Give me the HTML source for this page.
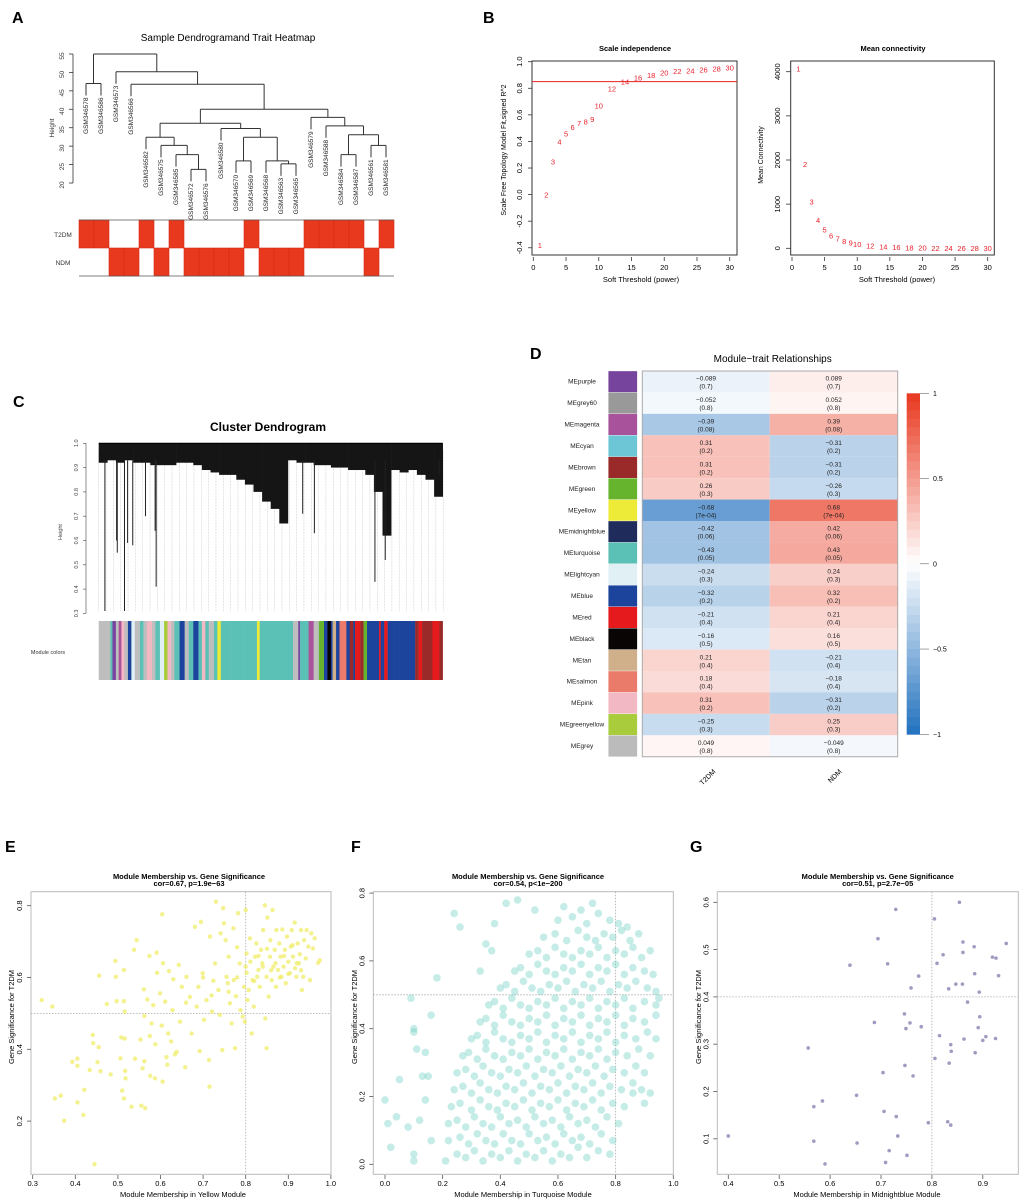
<!DOCTYPE html>
<html><head><meta charset="utf-8"><style>
html,body{margin:0;padding:0;background:#fff;}
svg{display:block;}
</style></head><body>
<svg id="fig" width="1021" height="1201" viewBox="0 0 1021 1201" xmlns="http://www.w3.org/2000/svg">
<rect x="0" y="0" width="1021" height="1201" fill="#fff"/>
</svg>
<script>
// ---------- Panel A data ----------
const aLabels=["GSM346578","GSM346586","GSM346573","GSM346566","GSM346582","GSM346575","GSM346585","GSM346572","GSM346576","GSM346580","GSM346570","GSM346569","GSM346568","GSM346563","GSM346565","GSM346579","GSM346588","GSM346584","GSM346587","GSM346561","GSM346581"];
const aT2DM=[1,1,0,0,1,0,1,0,0,0,0,1,0,0,0,1,1,1,1,0,1];
const aNDM=[0,0,1,1,0,1,0,1,1,1,1,0,1,1,1,0,0,0,0,1,0];
const aMerge=[[-8,-9],[-14,-15],[-11,-12],[-13,2],[-7,1],[-18,-19],[-6,5],[-20,-21],[-5,7],[3,4],[6,8],[-10,10],[-17,11],[9,12],[-16,13],[14,15],[-4,16],[-1,-2],[-3,17],[18,19]];
const aHeight=[23.7,25.2,26,26,27.7,27.7,30.2,30.2,32.4,32.4,33.1,34.8,35.5,36.2,37.8,40,46.8,47,50.2,55];
const aYTicks=[20,25,30,35,40,45,50,55];
// ---------- Panel B data ----------
const bPowers=[1,2,3,4,5,6,7,8,9,10,12,14,16,18,20,22,24,26,28,30];
const bFit=[-0.38,0.0,0.25,0.40,0.46,0.51,0.54,0.55,0.57,0.67,0.80,0.85,0.88,0.90,0.92,0.93,0.935,0.94,0.95,0.955];
const bConn=[4077,1910,1065,641,422,294,218,165,127,97,59,37,29,20,15,12,10,8,7,6];
const bXTicks=[0,5,10,15,20,25,30];
const bFitTicks=[-0.4,-0.2,0.0,0.2,0.4,0.6,0.8,1.0];
const bConnTicks=[0,1000,2000,3000,4000];
const bCutoff=0.85;
// ---------- Panel C data ----------
const cProfile=[0.92,0.93,0.92,0.93,0.92,0.92,0.91,0.91,0.91,0.92,0.92,0.91,0.89,0.88,0.87,0.87,0.85,0.83,0.80,0.76,0.73,0.67,0.93,0.92,0.92,0.91,0.91,0.90,0.90,0.89,0.89,0.87,0.80,0.62,0.89,0.88,0.89,0.87,0.85,0.78];
const cDrops=[[0.018,0.31],[0.075,0.31],[0.052,0.60],[0.054,0.55],[0.084,0.59],[0.099,0.58],[0.136,0.70],[0.167,0.41],[0.164,0.64],[0.803,0.43],[0.627,0.63],[0.593,0.71],[0.833,0.52],[0.99,0.87]];
const cYTicks=[0.3,0.4,0.5,0.6,0.7,0.8,0.9,1.0];
const cColorStart=[0,0.034,0.04,0.05,0.058,0.066,0.075,0.085,0.095,0.105,0.12,0.13,0.14,0.155,0.165,0.178,0.19,0.2,0.21,0.22,0.235,0.25,0.262,0.275,0.29,0.3,0.31,0.32,0.335,0.345,0.355,0.37,0.385,0.4,0.42,0.45,0.46,0.468,0.47,0.48,0.56,0.565,0.58,0.585,0.61,0.625,0.64,0.655,0.665,0.675,0.68,0.69,0.7,0.72,0.73,0.74,0.745,0.76,0.77,0.78,0.79,0.8,0.815,0.82,0.83,0.84,0.86,0.9,0.92,0.93,0.94,0.95,0.97,0.99];
const cColorFill=["#bebebe","#5bc0b6","#7a44a0","#bebebe","#a9529c","#f2b8c4","#bebebe","#1c449c","#e0f0f4","#bebebe","#5bc0b6","#bebebe","#f2b8c4","#bebebe","#5bc0b6","#e0f0f4","#a9cc3c","#f2b8c4","#bebebe","#5bc0b6","#1c449c","#bebebe","#5bc0b6","#1c449c","#5bc0b6","#f2b8c4","#5bc0b6","#bebebe","#5bc0b6","#eeea38","#5bc0b6","#5bc0b6","#5bc0b6","#5bc0b6","#5bc0b6","#5bc0b6","#eeea38","#5bc0b6","#5bc0b6","#5bc0b6","#5bc0b6","#bebebe","#7a44a0","#5bc0b6","#a9529c","#bebebe","#66b32e","#1c449c","#0a0505","#1c449c","#cfb08a","#1c449c","#ea7b6b","#1c449c","#9a2a2a","#1c449c","#e41a1c","#9a2a2a","#66b32e","#1c449c","#1c449c","#1c449c","#e41a1c","#1c449c","#e41a1c","#1c449c","#1c449c","#1c449c","#9a2a2a","#e41a1c","#9a2a2a","#9a2a2a","#e41a1c","#9a2a2a"];
// ---------- Panel D data ----------
const dModules=["MEpurple","MEgrey60","MEmagenta","MEcyan","MEbrown","MEgreen","MEyellow","MEmidnightblue","MEturquoise","MElightcyan","MEblue","MEred","MEblack","MEtan","MEsalmon","MEpink","MEgreenyellow","MEgrey"];
const dSwatch=["#76449c","#999999","#a9529c","#6cc6d6","#9a2a2a","#66b32e","#eeea38","#1f2b5a","#5bc0b6","#e0f0f4","#1c449c","#e41a1c","#0a0505","#cfb08a","#ea7b6b","#f2b8c4","#a9cc3c","#bbbbbb"];
const dT2DM=[-0.089,-0.052,-0.39,0.31,0.31,0.26,-0.68,-0.42,-0.43,-0.24,-0.32,-0.21,-0.16,0.21,0.18,0.31,-0.25,0.049];
const dNDM=[0.089,0.052,0.39,-0.31,-0.31,-0.26,0.68,0.42,0.43,0.24,0.32,0.21,0.16,-0.21,-0.18,-0.31,0.25,-0.049];
const dP=["0.7","0.8","0.08","0.2","0.2","0.3","7e-04","0.06","0.05","0.3","0.2","0.4","0.5","0.4","0.4","0.2","0.3","0.8"];
const dTraits=["T2DM","NDM"];
const dScaleTicks=[1,0.5,0,-0.5,-1];
// ---------- Panel E data (membership, significance) ----------
const ePoints=[[0.321,0.537],[0.346,0.519],[0.352,0.263],[0.366,0.271],[0.374,0.201],[0.393,0.365],[0.405,0.374],[0.405,0.354],[0.405,0.252],[0.419,0.217],[0.421,0.287],[0.434,0.342],[0.441,0.440],[0.442,0.417],[0.445,0.080],[0.452,0.364],[0.455,0.406],[0.456,0.605],[0.459,0.339],[0.483,0.330],[0.474,0.526],[0.494,0.646],[0.495,0.602],[0.497,0.534],[0.506,0.375],[0.508,0.433],[0.510,0.285],[0.514,0.621],[0.514,0.534],[0.516,0.505],[0.516,0.430],[0.517,0.340],[0.518,0.319],[0.514,0.263],[0.532,0.240],[0.538,0.677],[0.544,0.704],[0.540,0.374],[0.553,0.427],[0.555,0.243],[0.558,0.347],[0.561,0.567],[0.562,0.493],[0.562,0.367],[0.564,0.236],[0.569,0.539],[0.574,0.660],[0.575,0.437],[0.576,0.326],[0.579,0.472],[0.583,0.523],[0.588,0.414],[0.591,0.669],[0.592,0.613],[0.587,0.319],[0.599,0.556],[0.603,0.466],[0.604,0.776],[0.605,0.310],[0.606,0.640],[0.611,0.533],[0.614,0.378],[0.616,0.357],[0.618,0.444],[0.620,0.618],[0.625,0.422],[0.628,0.509],[0.630,0.595],[0.634,0.386],[0.638,0.393],[0.643,0.635],[0.646,0.477],[0.650,0.574],[0.658,0.350],[0.661,0.602],[0.669,0.546],[0.673,0.444],[0.681,0.741],[0.685,0.519],[0.689,0.574],[0.692,0.395],[0.695,0.755],[0.699,0.612],[0.702,0.482],[0.708,0.537],[0.714,0.370],[0.715,0.296],[0.716,0.714],[0.721,0.505],[0.724,0.591],[0.728,0.639],[0.730,0.811],[0.736,0.565],[0.739,0.496],[0.741,0.723],[0.745,0.398],[0.747,0.793],[0.749,0.751],[0.753,0.704],[0.755,0.602],[0.758,0.584],[0.760,0.658],[0.763,0.528],[0.767,0.472],[0.771,0.737],[0.772,0.593],[0.775,0.403],[0.777,0.548],[0.780,0.684],[0.782,0.779],[0.786,0.639],[0.788,0.509],[0.793,0.491],[0.796,0.574],[0.798,0.477],[0.800,0.788],[0.802,0.667],[0.802,0.613],[0.804,0.537],[0.807,0.565],[0.810,0.709],[0.811,0.644],[0.814,0.444],[0.816,0.593],[0.819,0.519],[0.822,0.658],[0.825,0.695],[0.827,0.602],[0.830,0.621],[0.833,0.574],[0.836,0.677],[0.839,0.640],[0.841,0.732],[0.845,0.801],[0.846,0.486],[0.849,0.403],[0.849,0.602],[0.851,0.767],[0.854,0.547],[0.857,0.658],[0.858,0.704],[0.861,0.593],[0.863,0.788],[0.865,0.630],[0.868,0.677],[0.871,0.574],[0.872,0.732],[0.876,0.621],[0.879,0.695],[0.882,0.658],[0.884,0.602],[0.886,0.734],[0.889,0.630],[0.892,0.677],[0.894,0.584],[0.897,0.714],[0.900,0.644],[0.904,0.612],[0.906,0.686],[0.908,0.732],[0.911,0.658],[0.915,0.753],[0.916,0.626],[0.919,0.602],[0.922,0.695],[0.925,0.640],[0.927,0.665],[0.930,0.732],[0.932,0.565],[0.935,0.602],[0.937,0.704],[0.941,0.653],[0.943,0.732],[0.947,0.686],[0.951,0.593],[0.954,0.723],[0.958,0.681],[0.962,0.709],[0.970,0.641],[0.974,0.648],[0.83,0.66],[0.86,0.62],[0.89,0.66],[0.92,0.64],[0.88,0.60],[0.85,0.68],[0.91,0.69],[0.87,0.64],[0.84,0.63],[0.93,0.62],[0.80,0.63],[0.78,0.60],[0.76,0.56],[0.72,0.55],[0.70,0.60],[0.66,0.53],[0.82,0.59],[0.90,0.61]];
const eXTicks=[0.3,0.4,0.5,0.6,0.7,0.8,0.9,1.0];
const eYTicks=[0.2,0.4,0.6,0.8];
// ---------- Panel F data ----------
const fPoints=[[0.21,0.01],[0.25,0.03],[0.28,0.02],[0.31,0.04],[0.34,0.01],[0.37,0.03],[0.40,0.02],[0.43,0.04],[0.46,0.01],[0.49,0.03],[0.52,0.02],[0.55,0.04],[0.58,0.01],[0.61,0.03],[0.64,0.02],[0.67,0.05],[0.70,0.02],[0.74,0.04],[0.78,0.03],
[0.22,0.07],[0.26,0.08],[0.29,0.06],[0.32,0.09],[0.35,0.07],[0.38,0.06],[0.41,0.09],[0.44,0.07],[0.47,0.06],[0.50,0.09],[0.53,0.07],[0.56,0.08],[0.59,0.06],[0.62,0.09],[0.65,0.07],[0.68,0.08],[0.71,0.06],[0.75,0.09],[0.79,0.07],
[0.22,0.12],[0.25,0.13],[0.28,0.11],[0.31,0.14],[0.34,0.12],[0.37,0.11],[0.40,0.14],[0.43,0.12],[0.46,0.13],[0.49,0.11],[0.52,0.14],[0.55,0.12],[0.58,0.13],[0.61,0.11],[0.64,0.14],[0.67,0.12],[0.70,0.13],[0.73,0.11],[0.77,0.14],[0.81,0.12],
[0.23,0.17],[0.26,0.18],[0.30,0.16],[0.33,0.19],[0.36,0.17],[0.39,0.16],[0.42,0.18],[0.45,0.17],[0.48,0.19],[0.51,0.16],[0.54,0.18],[0.57,0.17],[0.60,0.19],[0.63,0.16],[0.66,0.18],[0.69,0.17],[0.72,0.19],[0.75,0.16],[0.79,0.18],[0.83,0.17],[0.86,0.21],
[0.24,0.22],[0.27,0.23],[0.30,0.21],[0.33,0.24],[0.36,0.22],[0.39,0.21],[0.42,0.23],[0.45,0.22],[0.48,0.24],[0.51,0.21],[0.54,0.23],[0.57,0.22],[0.60,0.24],[0.63,0.21],[0.66,0.23],[0.69,0.22],[0.72,0.24],[0.75,0.21],[0.78,0.23],[0.82,0.22],[0.86,0.24],[0.89,0.22],
[0.25,0.27],[0.28,0.28],[0.31,0.26],[0.34,0.29],[0.37,0.27],[0.40,0.26],[0.43,0.28],[0.46,0.27],[0.49,0.29],[0.52,0.26],[0.55,0.28],[0.58,0.27],[0.61,0.29],[0.64,0.26],[0.67,0.28],[0.70,0.27],[0.73,0.29],[0.76,0.26],[0.79,0.28],[0.83,0.27],[0.87,0.29],[0.90,0.27],
[0.27,0.32],[0.29,0.33],[0.32,0.31],[0.35,0.34],[0.38,0.32],[0.41,0.31],[0.44,0.33],[0.47,0.32],[0.50,0.34],[0.53,0.31],[0.56,0.33],[0.59,0.32],[0.62,0.34],[0.65,0.31],[0.68,0.33],[0.71,0.32],[0.74,0.34],[0.77,0.31],[0.80,0.33],[0.84,0.32],[0.88,0.34],[0.92,0.32],
[0.30,0.37],[0.32,0.38],[0.35,0.36],[0.38,0.39],[0.41,0.37],[0.44,0.36],[0.47,0.38],[0.50,0.37],[0.53,0.39],[0.56,0.36],[0.59,0.38],[0.62,0.37],[0.65,0.39],[0.68,0.36],[0.71,0.38],[0.74,0.37],[0.77,0.39],[0.80,0.36],[0.83,0.38],[0.87,0.37],[0.91,0.39],[0.94,0.37],
[0.33,0.42],[0.35,0.43],[0.38,0.41],[0.41,0.44],[0.44,0.42],[0.47,0.41],[0.50,0.43],[0.53,0.42],[0.56,0.44],[0.59,0.41],[0.62,0.43],[0.65,0.42],[0.68,0.44],[0.71,0.41],[0.74,0.43],[0.77,0.42],[0.80,0.44],[0.83,0.41],[0.86,0.43],[0.90,0.42],[0.94,0.44],
[0.36,0.47],[0.38,0.48],[0.41,0.46],[0.44,0.49],[0.47,0.47],[0.50,0.46],[0.53,0.48],[0.56,0.47],[0.59,0.49],[0.62,0.46],[0.65,0.48],[0.68,0.47],[0.71,0.49],[0.74,0.46],[0.77,0.48],[0.80,0.47],[0.83,0.49],[0.86,0.46],[0.90,0.48],[0.94,0.47],
[0.40,0.52],[0.42,0.53],[0.45,0.51],[0.48,0.54],[0.51,0.52],[0.54,0.51],[0.57,0.53],[0.60,0.52],[0.63,0.54],[0.66,0.51],[0.69,0.53],[0.72,0.52],[0.75,0.54],[0.78,0.51],[0.81,0.53],[0.84,0.52],[0.87,0.54],[0.91,0.52],[0.94,0.51],
[0.45,0.57],[0.47,0.58],[0.50,0.56],[0.53,0.59],[0.56,0.57],[0.59,0.56],[0.62,0.58],[0.65,0.57],[0.68,0.59],[0.71,0.56],[0.74,0.58],[0.77,0.57],[0.80,0.59],[0.83,0.56],[0.86,0.58],[0.90,0.57],[0.93,0.56],
[0.50,0.62],[0.53,0.63],[0.56,0.61],[0.59,0.64],[0.62,0.62],[0.65,0.61],[0.68,0.63],[0.71,0.62],[0.74,0.64],[0.77,0.61],[0.80,0.63],[0.83,0.62],[0.86,0.64],[0.89,0.61],[0.92,0.63],
[0.55,0.67],[0.59,0.68],[0.63,0.66],[0.67,0.69],[0.70,0.67],[0.73,0.66],[0.76,0.68],[0.79,0.67],[0.82,0.69],[0.85,0.66],[0.88,0.68],
[0.60,0.72],[0.65,0.73],[0.70,0.71],[0.74,0.74],[0.78,0.72],[0.81,0.71],[0.84,0.70],
[0.52,0.75],[0.62,0.76],[0.68,0.75],[0.72,0.77],[0.46,0.78],[0.42,0.77],
[0.00,0.19],[0.01,0.12],[0.02,0.05],[0.04,0.14],[0.05,0.25],[0.08,0.11],[0.10,0.01],[0.10,0.03],[0.10,0.39],[0.10,0.40],[0.11,0.34],[0.12,0.13],[0.13,0.26],[0.14,0.33],[0.14,0.19],[0.15,0.26],[0.16,0.07],[0.16,0.44],[0.18,0.55],[0.09,0.49],[0.24,0.74],[0.26,0.70],[0.33,0.57],[0.35,0.65],[0.38,0.71],[0.37,0.63],[0.95,0.49],[0.92,0.21],[0.90,0.18]];
const fXTicks=[0.0,0.2,0.4,0.6,0.8,1.0];
const fYTicks=[0.0,0.2,0.4,0.6,0.8];
// ---------- Panel G data ----------
const gPoints=[[0.854,0.600],[0.729,0.585],[0.805,0.565],[0.694,0.523],[0.861,0.516],[0.883,0.506],[0.946,0.513],[0.822,0.489],[0.861,0.494],[0.919,0.484],[0.926,0.482],[0.639,0.467],[0.713,0.470],[0.810,0.471],[0.774,0.444],[0.884,0.449],[0.931,0.445],[0.759,0.419],[0.847,0.427],[0.860,0.427],[0.833,0.417],[0.893,0.410],[0.870,0.389],[0.746,0.364],[0.687,0.346],[0.757,0.345],[0.749,0.333],[0.779,0.337],[0.894,0.358],[0.891,0.335],[0.815,0.318],[0.863,0.311],[0.906,0.316],[0.900,0.308],[0.925,0.312],[0.557,0.292],[0.837,0.299],[0.838,0.285],[0.885,0.282],[0.806,0.270],[0.834,0.260],[0.747,0.255],[0.704,0.240],[0.763,0.233],[0.652,0.192],[0.585,0.180],[0.568,0.168],[0.706,0.158],[0.730,0.147],[0.793,0.134],[0.831,0.136],[0.837,0.129],[0.400,0.106],[0.733,0.106],[0.568,0.095],[0.653,0.091],[0.716,0.075],[0.751,0.065],[0.590,0.047],[0.709,0.050]];
const gXTicks=[0.4,0.5,0.6,0.7,0.8,0.9];
const gYTicks=[0.1,0.2,0.3,0.4,0.5,0.6];

// ---------- helpers ----------
const NS="http://www.w3.org/2000/svg";
const svg=document.getElementById('fig');
const FONT="'Liberation Sans', Arial, sans-serif";
function mk(tag,attrs,name){
  const el=document.createElementNS(NS,tag);
  for(const k in attrs) el.setAttribute(k,attrs[k]);
  
  
  svg.appendChild(el);
  return el;
}
function tx(x,y,s,size,name,extra){
  const e=mk('text',Object.assign({x:x,y:y,'font-size':size,'font-family':FONT,fill:'#000'},extra||{}),name);
  e.textContent=s;
  return e;
}
function ln(x1,y1,x2,y2,name,extra){
  return mk('line',Object.assign({x1:x1,y1:y1,x2:x2,y2:y2,stroke:'#000','stroke-width':0.8},extra||{}),name);
}
function rtx(x,y,s,size,name,extra){
  return tx(x,y,s,size,name,Object.assign({'text-anchor':'middle',transform:'rotate(-90 '+x+' '+y+')'},extra||{}));
}

// ---------- panel letters ----------
tx(12,23,'A',16,'panel-label-a',{'font-weight':'bold'});
tx(483,23,'B',16,'panel-label-b',{'font-weight':'bold'});
tx(13,407,'C',16,'panel-label-c',{'font-weight':'bold'});
tx(530,359,'D',16,'panel-label-d',{'font-weight':'bold'});
tx(5,852,'E',16,'panel-label-e',{'font-weight':'bold'});
tx(351,852,'F',16,'panel-label-f',{'font-weight':'bold'});
tx(690,852,'G',16,'panel-label-g',{'font-weight':'bold'});

// ---------- Panel A ----------
(function(){
  const yA=h=>54+(55-h)*3.686;
  const xL=i=>86+15*i;
  tx(228,41,'Sample Dendrogramand Trait Heatmap',10,'sample-dendrogram-title',{'text-anchor':'middle'});
  ln(73,yA(20),73,yA(55),'a-y-axis',{stroke:'#333'});
  aYTicks.forEach(v=>{
    ln(69,yA(v),73,yA(v),'a-y-tick',{stroke:'#333'});
    rtx(64,yA(v)+2,String(v),6.5,'a-y-tick-label',{fill:'#333'});
  });
  rtx(54,128,'Height',6.5,'a-y-axis-title',{fill:'#333'});
  const nodeX=[],nodeY=[];
  aMerge.forEach((m,k)=>{
    const h=aHeight[k], y=yA(h), xs=[];
    m.forEach(c=>{
      let cx,cy;
      if(c<0){
        const i=-c-1; cx=xL(i); cy=y+12;
        tx(cx+2,cy+2,aLabels[i],6.5,'sample-label',{'text-anchor':'end',transform:'rotate(-90 '+(cx+2)+' '+(cy+2)+')',fill:'#222'});
      } else { cx=nodeX[c-1]; cy=nodeY[c-1]; }
      ln(cx,y,cx,cy,'dendrogram-branch',{stroke:'#333','stroke-width':1});
      xs.push(cx);
    });
    ln(xs[0],y,xs[1],y,'dendrogram-join',{stroke:'#333','stroke-width':1});
    nodeX.push((xs[0]+xs[1])/2); nodeY.push(y);
  });
  aT2DM.forEach((v,i)=>{ if(v) mk('rect',{x:79+15*i,y:220,width:15,height:28,fill:'#e8391e',stroke:'#d62a12','stroke-width':0.6},'t2dm-trait-cell'); });
  aNDM.forEach((v,i)=>{ if(v) mk('rect',{x:79+15*i,y:248,width:15,height:28,fill:'#e8391e',stroke:'#d62a12','stroke-width':0.6},'ndm-trait-cell'); });
  ln(79,220,394,220,'heatmap-top-border',{stroke:'#555'});
  ln(79,276,394,276,'heatmap-bottom-border',{stroke:'#555'});
  tx(63,237,'T2DM',6.5,'t2dm-row-label',{'text-anchor':'middle',fill:'#333'});
  tx(63,265,'NDM',6.5,'ndm-row-label',{'text-anchor':'middle',fill:'#333'});
})();

// ---------- Panel B ----------
(function(){
  const xS=p=>533.3+p*6.547, yS=v=>61.7+(1-v)*132.9;
  mk('rect',{x:532,y:61,width:205,height:194,fill:'none',stroke:'#333','stroke-width':1},'scale-independence-frame');
  bXTicks.forEach(p=>{ ln(xS(p),257,xS(p),261,'b1-x-tick',{stroke:'#333'}); tx(xS(p),270,String(p),7.5,'b1-x-tick-label',{'text-anchor':'middle'}); });
  bFitTicks.forEach(v=>{ ln(528,yS(v),532,yS(v),'b1-y-tick',{stroke:'#333'}); rtx(522,yS(v),v.toFixed(1),7.5,'b1-y-tick-label'); });
  ln(532,yS(bCutoff),737,yS(bCutoff),'r2-cutoff-line',{stroke:'#e82020','stroke-width':1});
  bPowers.forEach((p,i)=>{ tx(xS(p),yS(bFit[i])+3,String(p),7.5,'fit-power-label',{'text-anchor':'middle',fill:'#e8202a'}); });
  tx(635,51,'Scale independence',7.5,'scale-independence-title',{'text-anchor':'middle','font-weight':'bold'});
  tx(641,282,'Soft Threshold (power)',7.5,'b1-x-axis-title',{'text-anchor':'middle'});
  rtx(506,150,'Scale Free Topology Model Fit,signed R^2',7,'b1-y-axis-title');
  const xC=p=>792+p*6.523, yC=v=>248.3-v*0.04415;
  mk('rect',{x:790.7,y:61,width:203.6,height:194,fill:'none',stroke:'#333','stroke-width':1},'mean-connectivity-frame');
  bXTicks.forEach(p=>{ ln(xC(p),257,xC(p),261,'b2-x-tick',{stroke:'#333'}); tx(xC(p),270,String(p),7.5,'b2-x-tick-label',{'text-anchor':'middle'}); });
  bConnTicks.forEach(v=>{ ln(786,yC(v),790.7,yC(v),'b2-y-tick',{stroke:'#333'}); rtx(780,yC(v),String(v),7.5,'b2-y-tick-label'); });
  bPowers.forEach((p,i)=>{ tx(xC(p),yC(bConn[i])+3,String(p),7.5,'connectivity-power-label',{'text-anchor':'middle',fill:'#e8202a'}); });
  tx(893,51,'Mean connectivity',7.5,'mean-connectivity-title',{'text-anchor':'middle','font-weight':'bold'});
  tx(897,282,'Soft Threshold (power)',7.5,'b2-x-axis-title',{'text-anchor':'middle'});
  rtx(763,155,'Mean Connectivity',7,'b2-y-axis-title');
})();

// ---------- Panel C ----------
(function(){
  const x0=98.7,W=344;
  const xC=f=>x0+f*W, yC=h=>443.3+(1-h)*243;
  tx(268,431,'Cluster Dendrogram',12,'cluster-dendrogram-title',{'text-anchor':'middle','font-weight':'bold'});
  ln(86,yC(0.3),86,yC(1.0),'c-y-axis',{stroke:'#444','stroke-width':0.6});
  cYTicks.forEach(v=>{ ln(83,yC(v),86,yC(v),'c-y-tick',{stroke:'#444','stroke-width':0.6}); rtx(78,yC(v),v.toFixed(1),5.5,'c-y-tick-label',{fill:'#444'}); });
  rtx(62,532,'Height',5.5,'c-y-axis-title',{fill:'#444'});
  for(let k=0;k<=47;k++){ const x=x0+k*7.33; ln(x,yC(0.97),x,yC(0.31),'gene-leaf-line',{stroke:'#c8c8c8','stroke-width':0.5,'stroke-dasharray':'2,1'}); }
  const sw=W/cProfile.length;
  cProfile.forEach((h,i)=>{
    mk('rect',{x:xC(i/cProfile.length),y:yC(1.0),width:sw+0.3,height:yC(h)-yC(1.0),fill:'#151515'},'dendrogram-mass');
  });
  cDrops.forEach(d=>{ ln(xC(d[0]),yC(0.93),xC(d[0]),yC(d[1]),'dendrogram-drop',{stroke:'#222','stroke-width':1}); });
  ln(x0,yC(1.0),x0+W,yC(1.0),'dendrogram-top',{stroke:'#000','stroke-width':1.2});
  cColorStart.forEach((s,i)=>{
    const e=(i+1<cColorStart.length)?cColorStart[i+1]:1;
    mk('rect',{x:xC(s),y:621,width:(e-s)*W+0.2,height:59,fill:cColorFill[i]},'module-color-segment');
  });
  tx(48,654,'Module colors',5.5,'module-colors-label',{'text-anchor':'middle',fill:'#333'});
})();

// ---------- Panel D ----------
(function(){
  const y0=371,rh=21.43;
  function bwr(v){
    const t=Math.min(1,Math.abs(v));
    if(v<0) return 'rgb('+Math.round(255-222*t)+','+Math.round(255-142*t)+','+Math.round(255-65*t)+')';
    return 'rgb('+Math.round(255-23*t)+','+Math.round(255-200*t)+','+Math.round(255-225*t)+')';
  }
  tx(772.7,362,'Module\u2212trait Relationships',10,'module-trait-title',{'text-anchor':'middle'});
  const colX=[642.3,769.7], colW=[127.4,128];
  const vals=[dT2DM,dNDM];
  dModules.forEach((m,i)=>{
    const y=y0+i*rh;
    tx(582,y+rh/2+2,m,6.5,'module-label',{'text-anchor':'middle',fill:'#222'});
    mk('rect',{x:608.3,y:y,width:29,height:rh,fill:dSwatch[i],stroke:'#fff','stroke-width':0.3},'module-swatch');
    vals.forEach((arr,c)=>{
      mk('rect',{x:colX[c],y:y,width:colW[c],height:rh,fill:bwr(arr[i])},'correlation-cell');
      const cx=colX[c]+colW[c]/2;
      tx(cx,y+rh/2-1,String(arr[i]).replace('-','\u2212'),6.5,'correlation-value',{'text-anchor':'middle',fill:'#222'});
      tx(cx,y+rh/2+7,'('+dP[i]+')',6.5,'p-value',{'text-anchor':'middle',fill:'#222'});
    });
  });
  mk('rect',{x:642.3,y:y0,width:255.4,height:rh*18,fill:'none',stroke:'#aaa','stroke-width':1},'heatmap-frame');
  tx(716,772,dTraits[0],7,'t2dm-column-label',{'text-anchor':'end',transform:'rotate(-45 716 772)'});
  tx(842,772,dTraits[1],7,'ndm-column-label',{'text-anchor':'end',transform:'rotate(-45 842 772)'});
  const cbTop=393.3,cbBot=734.3,n=40;
  for(let k=0;k<n;k++){
    const v=1-(k+0.5)*2/n;
    mk('rect',{x:906.7,y:cbTop+k*(cbBot-cbTop)/n,width:13.3,height:(cbBot-cbTop)/n+0.4,fill:bwr(v)},'colorbar-segment');
  }
  dScaleTicks.forEach(v=>{
    const y=cbTop+(1-v)/2*(cbBot-cbTop);
    ln(920,y,929,y,'colorbar-tick',{stroke:'#666','stroke-width':0.6});
    tx(933,y+2.5,String(v).replace('-','\u2212'),7,'colorbar-tick-label');
  });
})();

// ---------- Scatter panels ----------
function scatterPanel(cfg){
  mk('rect',{x:cfg.bx0,y:891.7,width:cfg.bx1-cfg.bx0,height:282.6,fill:'none',stroke:'#bbb','stroke-width':1},cfg.key+'-frame');
  cfg.xt.forEach(v=>{ const x=cfg.xm(v); ln(x,1175,x,1179,cfg.key+'-x-tick',{stroke:'#555'}); tx(x,1186,v.toFixed(1),7.5,cfg.key+'-x-tick-label',{'text-anchor':'middle'}); });
  cfg.yt.forEach(v=>{ const y=cfg.ym(v); ln(cfg.bx0-4,y,cfg.bx0,y,cfg.key+'-y-tick',{stroke:'#555'}); rtx(cfg.bx0-9,y,v.toFixed(1),7.5,cfg.key+'-y-tick-label'); });
  ln(cfg.xm(cfg.vx),891.7,cfg.xm(cfg.vx),1174.3,cfg.key+'-membership-threshold',{stroke:'#aaa','stroke-dasharray':'1.5,1.5'});
  ln(cfg.bx0,cfg.ym(cfg.hy),cfg.bx1,cfg.ym(cfg.hy),cfg.key+'-significance-threshold',{stroke:'#aaa','stroke-dasharray':'1.5,1.5'});
  cfg.pts.forEach(p=>{ mk('circle',{cx:cfg.xm(p[0]),cy:cfg.ym(p[1]),r:cfg.r,fill:cfg.col,opacity:cfg.op},cfg.key+'-gene-point'); });
  tx(cfg.tc,879,'Module Membership vs. Gene Significance',7.5,cfg.key+'-title',{'text-anchor':'middle','font-weight':'bold'});
  tx(cfg.tc,886,cfg.sub,7.5,cfg.key+'-subtitle',{'text-anchor':'middle','font-weight':'bold'});
  tx(cfg.xlc,1197,cfg.xl,7.5,cfg.key+'-x-axis-title',{'text-anchor':'middle'});
  rtx(cfg.ylx,1017,'Gene Significance for T2DM',7.5,cfg.key+'-y-axis-title');
}
scatterPanel({key:'e',bx0:31,bx1:331,xm:v=>32.7+(v-0.3)*426,ym:v=>905.7+(0.8-v)*359,xt:eXTicks,yt:eYTicks,vx:0.8,hy:0.5,pts:ePoints,r:2.2,col:'#f0ec6a',op:0.75,tc:189,sub:'cor=0.67, p=1.9e\u221263',xl:'Module Membership in Yellow Module',xlc:183,ylx:14});
scatterPanel({key:'f',bx0:373.3,bx1:673.3,xm:v=>385+v*288.3,ym:v=>1164.3-v*339,xt:fXTicks,yt:fYTicks,vx:0.8,hy:0.5,pts:fPoints,r:3.8,col:'#6fcfc2',op:0.4,tc:528,sub:'cor=0.54, p<1e\u2212200',xl:'Module Membership in Turquoise Module',xlc:523,ylx:357});
scatterPanel({key:'g',bx0:717.3,bx1:1018.3,xm:v=>728.3+(v-0.4)*509,ym:v=>902.3+(0.6-v)*473,xt:gXTicks,yt:gYTicks,vx:0.8,hy:0.4,pts:gPoints,r:1.8,col:'#8f8ab5',op:0.85,tc:877.7,sub:'cor=0.51, p=2.7e\u221205',xl:'Module Membership in Midnightblue Module',xlc:867,ylx:701});
</script>
</body></html>
